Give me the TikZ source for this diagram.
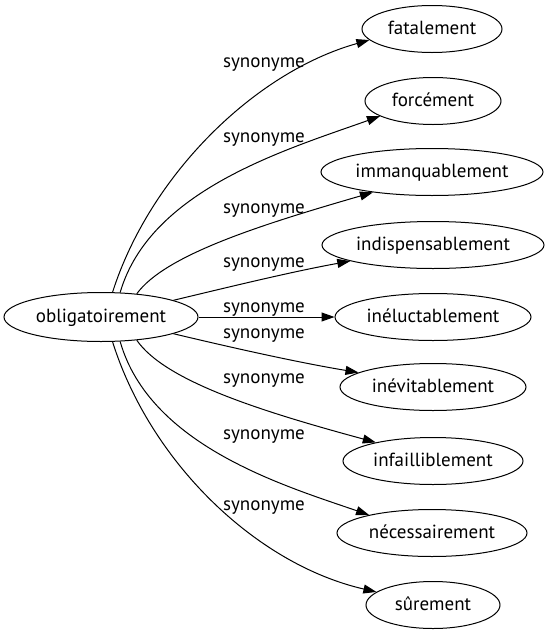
\documentclass[tikz,border=0pt]{standalone}
\usepackage{fontspec}
\setmainfont{PT Sans}
\usetikzlibrary{shapes.geometric,arrows.meta}
\begin{document}
\begin{tikzpicture}[x=1pt,y=-1pt,
  ent/.style={ellipse,draw,line width=1pt,inner sep=0pt,minimum height=47pt,text height=12pt,text depth=2pt,font=\fontsize{19}{21}\selectfont},
  lab/.style={anchor=base,inner sep=0pt,font=\fontsize{19}{21}\selectfont},
  syn/.style={draw,line width=1pt,-{Triangle[length=13pt,width=9pt]}}]
\useasboundingbox (0,0) rectangle (549,635);
\node[ent,minimum width=194pt,minimum height=49pt] (src) at (101,317) {obligatoirement};
\node[ent,minimum width=140pt] (t1) at (432,29) {fatalement};
\node[ent,minimum width=136pt] (t2) at (433,101) {forcément};
\node[ent,minimum width=222pt] (t3) at (432,172) {immanquablement};
\node[ent,minimum width=222pt] (t4) at (433,245) {indispensablement};
\node[ent,minimum width=196pt] (t5) at (433,317) {inéluctablement};
\node[ent,minimum width=186pt] (t6) at (433,387) {inévitablement};
\node[ent,minimum width=180pt] (t7) at (433,461) {infailliblement};
\node[ent,minimum width=190pt] (t8) at (432,533) {nécessairement};
\node[ent,minimum width=134pt] (t9) at (433,605) {sûrement};
\draw[syn] (src.65) .. controls (150,175) and (255,72) .. (t1.190);
\draw[syn] (src.52) .. controls (150,190) and (285,150) .. (t2.196);
\draw[syn] (src.33.5) .. controls (165,255) and (260,225) .. (t3.199);
\draw[syn] (src.13) .. controls (225,288) and (290,272) .. (t4.191);
\draw[syn] (src.0) -- (t5.180);
\draw[syn] (src.-13) .. controls (225,346) and (295,362) .. (t6.169);
\draw[syn] (src.-33.5) .. controls (165,381) and (260,411) .. (t7.162);
\draw[syn] (src.-52) .. controls (150,446) and (285,486) .. (t8.164);
\draw[syn] (src.-65) .. controls (150,461) and (255,564) .. (t9.167);
\node[lab] (l1) at (264,67) {synonyme};
\node[lab] (l2) at (264,142) {synonyme};
\node[lab] (l3) at (264,213) {synonyme};
\node[lab] (l4) at (264,267) {synonyme};
\node[lab] (l5) at (264,312) {synonyme};
\node[lab] (l6) at (264,338) {synonyme};
\node[lab] (l7) at (264,383) {synonyme};
\node[lab] (l8) at (264,439) {synonyme};
\node[lab] (l9) at (264,510) {synonyme};
\end{tikzpicture}
\end{document}
